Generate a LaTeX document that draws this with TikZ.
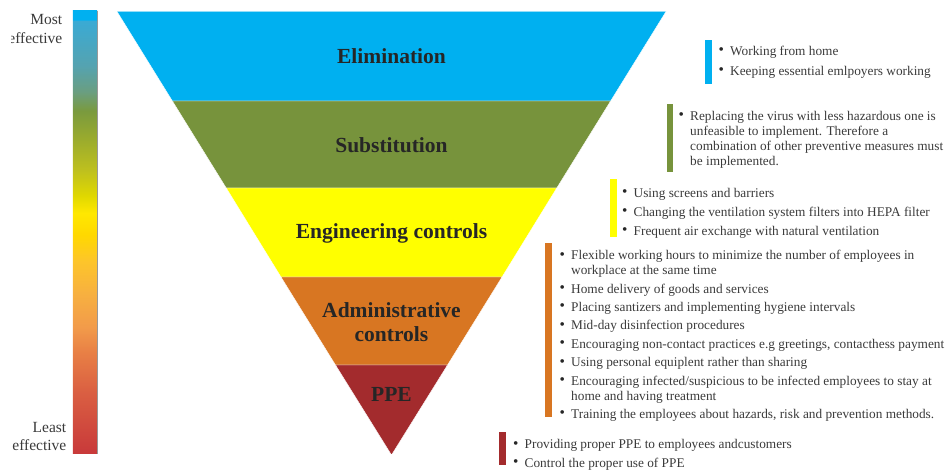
\documentclass[tikz,border=0pt]{standalone}
\usepackage{fontspec}
\setmainfont{Liberation Serif}
\definecolor{cblue}{HTML}{00B0F0}
\definecolor{cgreen}{HTML}{77933C}
\definecolor{cyellow}{HTML}{FFFF00}
\definecolor{corange}{HTML}{D87622}
\definecolor{cred}{HTML}{A32B2D}
\definecolor{titlegray}{HTML}{262626}
\definecolor{itemgray}{HTML}{3A3A3A}
\definecolor{e0}{HTML}{C8393A}
\definecolor{e1}{HTML}{DA5F42}
\definecolor{e2}{HTML}{E87F45}
\definecolor{e3}{HTML}{F29B4A}
\definecolor{e4}{HTML}{F7B040}
\definecolor{e5}{HTML}{FDC52A}
\definecolor{e6}{HTML}{FFD800}
\definecolor{e7}{HTML}{FFE800}
\definecolor{e8}{HTML}{E0D800}
\definecolor{e9}{HTML}{BEC01E}
\definecolor{e10}{HTML}{98AA2E}
\definecolor{e11}{HTML}{7A9A3E}
\definecolor{e12}{HTML}{6A9E80}
\definecolor{e13}{HTML}{55A3B0}
\definecolor{e14}{HTML}{3AAAD4}
\definecolor{e15}{HTML}{00B0F0}
\pgfdeclareverticalshading{effshade}{100bp}{color(0bp)=(e0); color(25bp)=(e0);
  color(32bp)=(e1); color(36.4bp)=(e2); color(39.33bp)=(e3); color(43.06bp)=(e4);
  color(46.78bp)=(e5); color(49.72bp)=(e6); color(52.2bp)=(e7); color(54.12bp)=(e8);
  color(57.05bp)=(e9); color(60.78bp)=(e10); color(63.71bp)=(e11); color(65.86bp)=(e12);
  color(68.79bp)=(e13); color(73.87bp)=(e14); color(74.04bp)=(e15); color(75bp)=(e15);
  color(100bp)=(e15)}
\newcommand{\bl}{\llap{\textcolor{black!85}{\raisebox{0.6pt}{\scalebox{1.15}{\textbullet}}}\hspace{6.3pt}}}
\begin{document}
\begin{tikzpicture}[x=1pt,y=-1pt,
  band/.style={draw=white, line width=0.4pt},
  title/.style={font=\fontsize{21.5}{24}\selectfont\bfseries, text=titlegray,
    text height=14pt, text depth=0pt, inner sep=0pt},
  item/.style={font=\fontsize{13.3}{15}\selectfont, text=itemgray, anchor=west,
    inner sep=0pt, text height=9pt, text depth=3pt},
  side/.style={font=\fontsize{15.5}{18}\selectfont, text=itemgray, anchor=east,
    inner sep=0pt, text height=11pt, text depth=0pt}]
\useasboundingbox (0,0) rectangle (946,470);

% effectiveness bar
\shade[shading=effshade] (72.8,11) rectangle (97,454);
\draw[black!40, line width=0.6pt] (97.1,11) -- (97.1,454);
\node[side] (most) at (62.5,19.5) {Most};
\begin{scope}
\clip (11,25) rectangle (70,50);
\node[side] (mosteff) at (62.5,38) {effective};
\end{scope}
\node[side] (least) at (66.5,426.5) {Least};
\node[side] (leasteff) at (66.5,444.5) {effective};

% inverted pyramid
\fill[cblue, band] (117,11.5) -- (666,11.5) -- (610.6,101) -- (172.4,101) -- cycle;
\fill[cgreen, band] (172.4,101) -- (610.6,101) -- (556.75,188) -- (226.25,188) -- cycle;
\fill[cyellow, band] (226.25,188) -- (556.75,188) -- (502,277) -- (281,277) -- cycle;
\fill[corange, band] (281,277) -- (502,277) -- (447.5,365) -- (335.5,365) -- cycle;
\fill[cred, band] (335.5,365) -- (447.5,365) -- (391.5,455) -- cycle;

\node[title] (elim) at (391.5,57) {Elimination};
\node[title] (subs) at (391.5,146) {Substitution};
\node[title] (eng) at (391.5,232) {Engineering controls};
\node[title] (adm1) at (391.5,310.5) {Administrative};
\node[title] (adm2) at (391.5,334.5) {controls};
\node[title] (ppe) at (391.5,395) {PPE};

% Elimination list
\fill[cblue] (705,40) rectangle (711.5,84.5);
\node[item] (b1) at (730,52.5) {\bl Working from home};
\node[item] (b2) at (730,72.5) {\bl Keeping essential emlpoyers working};

% Substitution list
\fill[cgreen] (666.5,104.5) rectangle (672.5,172);
\node[item] (g1) at (690,117.5) {\bl Replacing the virus with less hazardous one is};
\node[item] (g2) at (690,132.5) {unfeasible to implement. Therefore a};
\node[item] (g3) at (690,147.5) {combination of other preventive measures must};
\node[item] (g4) at (690,162.5) {be implemented.};

% Engineering list
\fill[cyellow] (610,179.5) rectangle (616.5,237.5);
\node[item] (y1) at (633.5,194.5) {\bl Using screens and barriers};
\node[item] (y2) at (633.5,213.5) {\bl Changing the ventilation system filters into HEPA filter};
\node[item] (y3) at (633.5,232.5) {\bl Frequent air exchange with natural ventilation};

% Administrative list
\fill[corange] (545,243) rectangle (551.5,417.5);
\node[item] (o1) at (571,257) {\bl Flexible working hours to minimize the number of employees in};
\node[item] (o1b) at (571,272) {workplace at the same time};
\node[item] (o2) at (571,290.5) {\bl Home delivery of goods and services};
\node[item] (o3) at (571,308.5) {\bl Placing santizers and implementing hygiene intervals};
\node[item] (o4) at (571,327) {\bl Mid-day disinfection procedures};
\node[item] (o5) at (571,345.5) {\bl Encouraging non-contact practices e.g greetings, contacthess payment};
\node[item] (o6) at (571,364) {\bl Using personal equiplent rather than sharing};
\node[item] (o7) at (571,382.5) {\bl Encouraging infected/suspicious to be infected employees to stay at};
\node[item] (o7b) at (571,397.5) {home and having treatment};
\node[item] (o8) at (571,415.5) {\bl Training the employees about hazards, risk and prevention methods.};

% PPE list
\fill[cred] (498.5,432) rectangle (505.5,465);
\node[item] (r1) at (524.5,446) {\bl Providing proper PPE to employees andcustomers};
\node[item] (r2) at (524.5,464.5) {\bl Control the proper use of PPE};
\end{tikzpicture}
\end{document}
